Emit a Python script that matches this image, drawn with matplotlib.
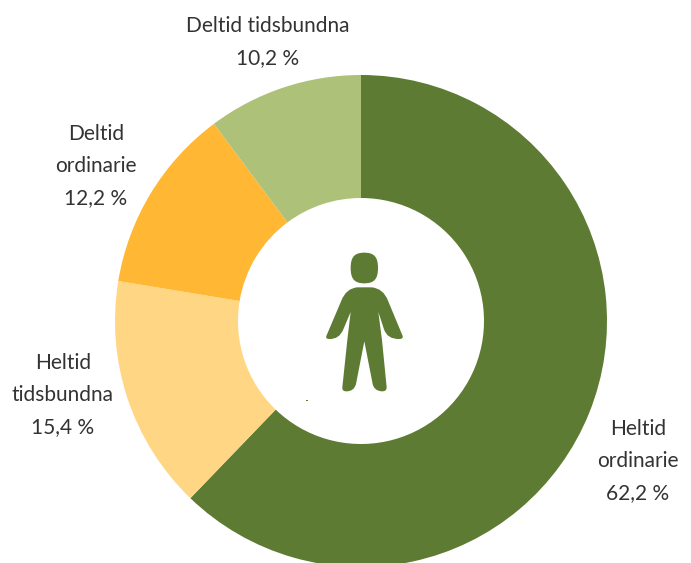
import matplotlib
matplotlib.use('Agg')
import matplotlib.pyplot as plt
from matplotlib.patches import PathPatch, Rectangle
from matplotlib.path import Path

categories = ['Heltid ordinarie', 'Heltid tidsbundna', 'Deltid ordinarie', 'Deltid tidsbundna']
shares = [62.2, 15.4, 12.2, 10.2]
colors = ['#5d7b33', '#ffd784', '#ffb734', '#adc179']

# label text, x, y in pixels from the top left
labels = [
    ('Heltid\nordinarie\n62,2 %', 638, 461),
    ('Heltid\ntidsbundna\n15,4 %', 63, 395),
    ('Deltid\nordinarie\n12,2 %', 96, 166),
    ('Deltid tidsbundna\n10,2 %', 268, 42),
]

W, H = 691, 563
plt.rcParams['font.family'] = ['Lato', 'DejaVu Sans']

fig = plt.figure(figsize=(W / 100, H / 100), dpi=100)
ax = fig.add_axes([0, 0, 1, 1])

# donut, centre and radius in pixels
ax.pie(shares, colors=colors, startangle=90, counterclock=False,
       center=(361, H - 321), radius=246,
       wedgeprops={'width': 123, 'linewidth': 0})
ax.set_xlim(0, W)
ax.set_ylim(0, H)
ax.set_aspect('equal')
ax.axis('off')

for text, x, y in labels:
    ax.text(x, H - y, text, ha='center', va='center', fontsize=15,
            fontweight='normal', color='#333333', linespacing=1.74)


# person icon, traced in zoomed crop coordinates
def pt(x, y):
    return (300 + x / 3, H - (230 + y / 3))


# head is a squashed circle, a bit fuller than an ellipse
cx, cy = 193, 114
a, b = 41, 46
k = 0.72
head = [
    (Path.MOVETO, (cx, cy - b)),
    (Path.CURVE4, (cx + k * a, cy - b)), (Path.CURVE4, (cx + a, cy - k * b)), (Path.CURVE4, (cx + a, cy)),
    (Path.CURVE4, (cx + a, cy + k * b)), (Path.CURVE4, (cx + k * a, cy + b)), (Path.CURVE4, (cx, cy + b)),
    (Path.CURVE4, (cx - k * a, cy + b)), (Path.CURVE4, (cx - a, cy + k * b)), (Path.CURVE4, (cx - a, cy)),
    (Path.CURVE4, (cx - a, cy - k * b)), (Path.CURVE4, (cx - k * a, cy - b)), (Path.CURVE4, (cx, cy - b)),
    (Path.CLOSEPOLY, (cx, cy - b)),
]
ax.add_patch(PathPatch(Path([pt(*p) for c, p in head], [c for c, p in head]),
                       facecolor='#5d7b33', lw=0))

body = [
    (Path.MOVETO, (172, 172)),
    (Path.LINETO, (215, 172)),
    (Path.CURVE3, (250, 175)), (Path.CURVE3, (264, 212)),
    (Path.LINETO, (308, 318)),
    (Path.CURVE3, (310, 327)), (Path.CURVE3, (298, 327)),
    (Path.CURVE3, (262, 328)), (Path.CURVE3, (252, 298)),
    (Path.LINETO, (235, 246)),
    (Path.LINETO, (246, 330)),
    (Path.LINETO, (260, 472)),
    (Path.CURVE3, (260, 485)), (Path.CURVE3, (245, 484)),
    (Path.CURVE3, (222, 482)), (Path.CURVE3, (218, 462)),
    (Path.LINETO, (193, 334)),
    (Path.LINETO, (168, 462)),
    (Path.CURVE3, (162, 484)), (Path.CURVE3, (140, 484)),
    (Path.CURVE3, (126, 485)), (Path.CURVE3, (127, 472)),
    (Path.LINETO, (142, 330)),
    (Path.LINETO, (152, 246)),
    (Path.LINETO, (130, 298)),
    (Path.CURVE3, (118, 328)), (Path.CURVE3, (88, 327)),
    (Path.CURVE3, (76, 327)), (Path.CURVE3, (79, 318)),
    (Path.LINETO, (124, 212)),
    (Path.CURVE3, (138, 175)), (Path.CURVE3, (172, 172)),
    (Path.CLOSEPOLY, (172, 172)),
]
codes = [c for c, p in body]
verts = [pt(*p) for c, p in body]
ax.add_patch(PathPatch(Path(verts, codes), facecolor='#5d7b33', lw=0))

# tiny stray speck under the icon
ax.add_patch(Rectangle(pt(18, 514), 2, 1, facecolor='#5d7b33', lw=0))

fig.savefig('out.png', dpi=100)
